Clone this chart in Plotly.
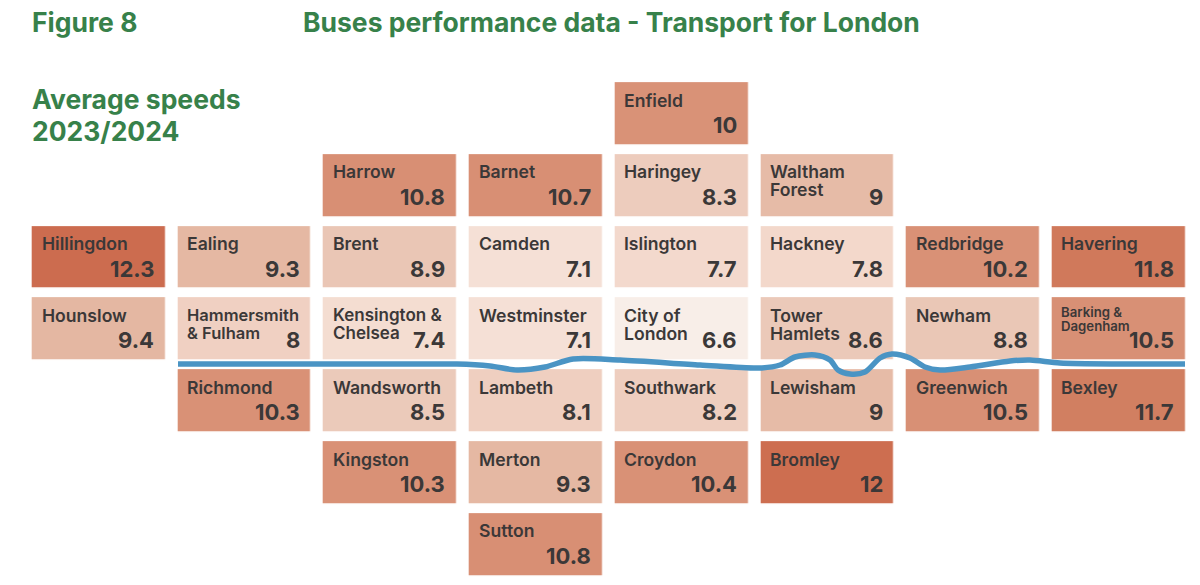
"""
plot.py
Figure 8: average bus speeds by London borough, tile map with the Thames on top.
"""
import plotly.graph_objects as go

# tile map data
boroughs = [
    "Enfield",
    "Harrow", "Barnet", "Haringey", "Waltham<br>Forest",
    "Hillingdon", "Ealing", "Brent", "Camden", "Islington", "Hackney", "Redbridge", "Havering",
    "Hounslow", "Hammersmith<br>& Fulham", "Kensington &<br>Chelsea", "Westminster", "City of<br>London",
    "Tower<br>Hamlets", "Newham", "Barking &<br>Dagenham",
    "Richmond", "Wandsworth", "Lambeth", "Southwark", "Lewisham", "Greenwich", "Bexley",
    "Kingston", "Merton", "Croydon", "Bromley",
    "Sutton",
]
speeds = [
    "10",
    "10.8", "10.7", "8.3", "9",
    "12.3", "9.3", "8.9", "7.1", "7.7", "7.8", "10.2", "11.8",
    "9.4", "8", "7.4", "7.1", "6.6", "8.6", "8.8", "10.5",
    "10.3", "8.5", "8.1", "8.2", "9", "10.5", "11.7",
    "10.3", "9.3", "10.4", "12",
    "10.8",
]
cols = [
    4,
    2, 3, 4, 5,
    0, 1, 2, 3, 4, 5, 6, 7,
    0, 1, 2, 3, 4, 5, 6, 7,
    1, 2, 3, 4, 5, 6, 7,
    2, 3, 4, 5,
    3,
]
rows = [
    0,
    1, 1, 1, 1,
    2, 2, 2, 2, 2, 2, 2, 2,
    3, 3, 3, 3, 3, 3, 3, 3,
    4, 4, 4, 4, 4, 4, 4,
    5, 5, 5, 5,
    6,
]

# colour ramp
ramp_speeds = [6.6, 7.1, 7.4, 7.8, 8.0, 8.5, 8.9, 9.0, 9.4, 10.0, 10.8, 11.7, 12.0, 12.3]
ramp_colors = ["#F8EEE8", "#F5E0D6", "#F4DDD1", "#F3D8CB", "#F0D0C2", "#EBCABA", "#EAC6B5", "#E6BBA7",
               "#E4B7A2", "#D99277", "#D88F74", "#D17F61", "#CD6E50", "#CC6C4F"]

# river Thames, read in image pixels
river_x = [178, 300, 420, 457, 490, 517, 545, 573, 620, 700, 760, 780, 795, 815, 830, 838, 850,
           865, 880, 892, 910, 925, 940, 970, 1010, 1030, 1060, 1120, 1185]
river_y = [364, 364, 364, 364, 366, 370, 367, 359, 360, 365, 368, 365, 357, 355, 360, 370, 374,
           372, 358, 354, 358, 367, 370, 367, 361, 360, 363, 364, 364]

W, H = 1200, 585
FONT = "Inter"
DARK = "#3B3838"
GREEN = "#37814A"
RIVER = "#4A94C4"

# grid -> pixels: column pitch 145.7, row pitch 71.83, first tile centre at (98.5, 114)
COL_PITCH, ROW_PITCH = 145.7, 71.83
X0, Y0 = 98.5, 114
TILE_W, TILE_H = 133, 62
# annotations keep a little padding inside their box
TEXT_PAD = 2.5

z = [[None] * 8 for _ in range(7)]
for c, r, s in zip(cols, rows, speeds):
    z[r][c] = float(s)

lo, hi = ramp_speeds[0], ramp_speeds[-1]
colorscale = [[(v - lo) / (hi - lo), col] for v, col in zip(ramp_speeds, ramp_colors)]

fig = go.Figure()

fig.add_trace(go.Heatmap(
    z=z, x=list(range(8)), y=list(range(7)),
    zmin=lo, zmax=hi, colorscale=colorscale, showscale=False,
    xgap=COL_PITCH - TILE_W, ygap=ROW_PITCH - TILE_H,
    hoverinfo="skip",
))

fig.add_trace(go.Scatter(
    x=river_x, y=river_y, mode="lines", xaxis="x2", yaxis="y2",
    line=dict(color=RIVER, width=5.5, shape="spline", smoothing=0.8),
    hoverinfo="skip",
))

annotations = []


def add_text(x, y, text, size, weight, color, anchor, xshift=0, yshift=0, xref="x", yref="y"):
    pad = -TEXT_PAD if anchor == "left" else TEXT_PAD
    annotations.append(dict(
        x=x, y=y, xref=xref, yref=yref, text=text, showarrow=False,
        xanchor=anchor, yanchor="middle", xshift=xshift + pad, yshift=yshift,
        font=dict(family=FONT, size=size, weight=weight, color=color),
    ))


def name_size(name):
    if name.startswith("Barking"):
        return 13.2
    if name.startswith("Hammersmith"):
        return 16.5
    if name.startswith("Kensington"):
        return 17
    return 17.6


for name, speed, c, r in zip(boroughs, speeds, cols, rows):
    lines = name.split("<br>")
    small = name.startswith("Barking")
    first = 14 if small else 17
    step = 14 if small else 18
    for i, line in enumerate(lines):
        dy = first + step * i - TILE_H / 2
        add_text(c, r, line, name_size(name), 600, DARK, "left", xshift=-TILE_W / 2 + 10, yshift=-dy)
    add_text(c, r, speed, 22, 650, DARK, "right", xshift=TILE_W / 2 - 11.5, yshift=-(42 - TILE_H / 2))

# headings, placed in image pixels
add_text(32, 22, "Figure 8", 26.5, 700, GREEN, "left", xref="x2", yref="y2")
add_text(303, 22, "Buses performance data - Transport for London", 26.5, 700, GREEN, "left", xref="x2", yref="y2")
add_text(32, 99, "Average speeds", 26.5, 700, GREEN, "left", xref="x2", yref="y2")
add_text(32, 131, "2023/2024", 26.5, 700, GREEN, "left", xref="x2", yref="y2")

hidden = dict(visible=False, showgrid=False, zeroline=False)

fig.update_layout(
    width=W, height=H,
    margin=dict(l=0, r=0, t=0, b=0),
    paper_bgcolor="white", plot_bgcolor="white",
    showlegend=False,
    annotations=annotations,
    xaxis=dict(range=[-X0 / COL_PITCH, (W - X0) / COL_PITCH], **hidden),
    yaxis=dict(range=[(H - Y0) / ROW_PITCH, -Y0 / ROW_PITCH], **hidden),
    xaxis2=dict(range=[0, W], overlaying="x", **hidden),
    yaxis2=dict(range=[H, 0], overlaying="y", **hidden),
)

# the page body has an 8px margin by default, drop it so the figure fills the window
fig.write_html(
    "out.html",
    config=dict(displayModeBar=False),
    post_script="document.body.style.margin = '0';",
)
